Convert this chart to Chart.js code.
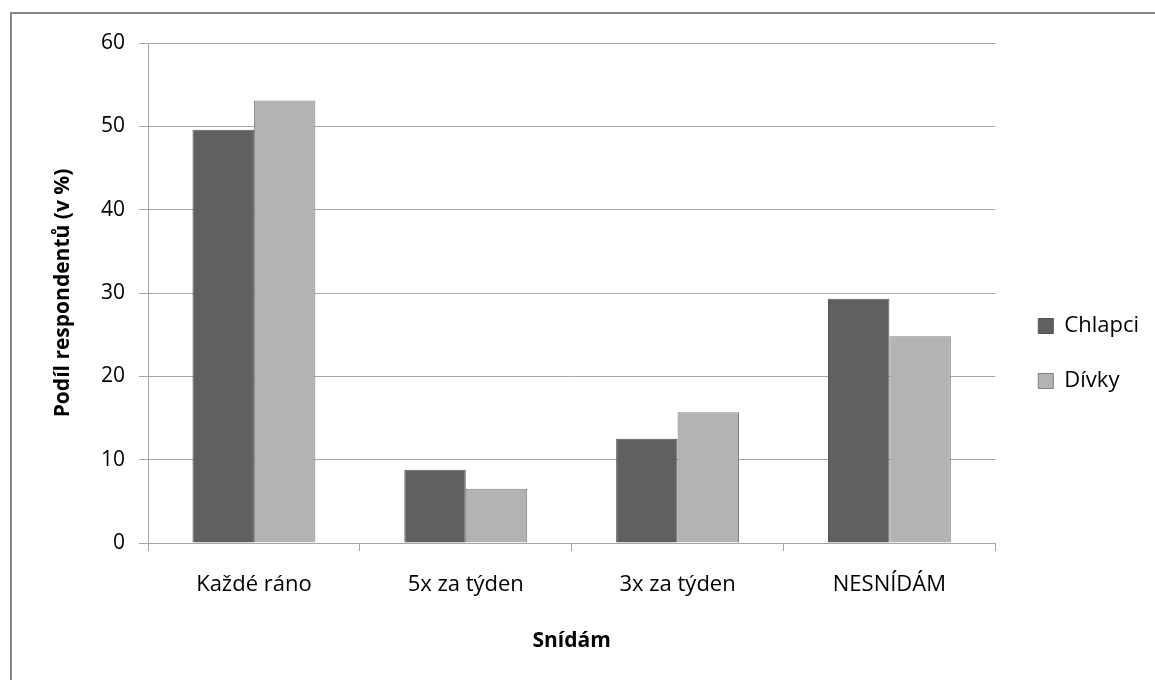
<!DOCTYPE html>
<html>
  <head>
    <script src="https://cdn.jsdelivr.net/npm/chart.js"></script>
    <style>
      body {
        margin: 0;
        padding: 0;
        overflow: hidden;
        background: #fff;
      }
      .frame {
        position: absolute;
        left: 10px;
        top: 12px;
        width: 2000px;
        height: 2000px;
        border-top: 2px solid #878787;
        border-left: 2px solid #878787;
      }
      .wrap {
        position: absolute;
        left: 0;
        top: 0;
        width: 1155px;
        height: 680px;
      }
    </style>
  </head>
  <body>
    <div class="frame"></div>
    <div class="wrap"><canvas id="breakfastChart"></canvas></div>
    <script>
      const categories = ["Každé ráno", "5x za týden", "3x za týden", "NESNÍDÁM"];
      const boys = [49.6, 8.8, 12.5, 29.3]; // Chlapci
      const girls = [53.1, 6.5, 15.7, 24.8]; // Dívky
      const yTicks = [0, 10, 20, 30, 40, 50, 60];

      const font = "'Open Sans', 'DejaVu Sans', sans-serif";
      const gridColor = "#a6a6a6";

      const chartData = {
        labels: categories,
        datasets: [
          {
            label: "Chlapci",
            data: boys,
            backgroundColor: "#606060",
            borderColor: "#555555",
            borderWidth: 1,
          },
          {
            label: "Dívky",
            data: girls,
            backgroundColor: "#b3b3b3",
            borderColor: "#7f7f7f",
            borderWidth: 1,
          },
        ],
      };

      const options = {
        responsive: false,
        animation: false,
        layout: {
          padding: { top: 43, left: 0, right: 6, bottom: 16 },
        },
        datasets: {
          bar: {
            categoryPercentage: 0.58,
            barPercentage: 1.0,
          },
        },
        plugins: {
          legend: {
            position: "right",
            labels: {
              boxWidth: 15,
              boxHeight: 15,
              padding: 33,
              color: "#000",
              font: { family: font, size: 22 },
            },
          },
          tooltip: { enabled: false },
        },
        scales: {
          x: {
            grid: {
              display: true,
              drawOnChartArea: false,
              drawTicks: true,
              tickLength: 8,
              color: gridColor,
            },
            border: { color: gridColor },
            ticks: {
              color: "#000",
              padding: 21,
              maxRotation: 0,
              font: { family: font, size: 22 },
            },
            title: {
              display: true,
              text: "Snídám",
              color: "#000",
              font: { family: font, size: 21, weight: "bold" },
              padding: { top: 0, bottom: 10 },
            },
            afterFit: (scale) => {
              scale.height = 121;
            },
          },
          y: {
            min: 0,
            max: 60,
            afterBuildTicks: (scale) => {
              scale.ticks = yTicks.map((v) => ({ value: v }));
            },
            grid: {
              color: gridColor,
              drawTicks: true,
              tickLength: 9,
            },
            border: { color: gridColor },
            ticks: {
              color: "#000",
              padding: 14,
              font: { family: font, size: 21 },
            },
            title: {
              display: true,
              text: "Podíl respondentů (v %)",
              color: "#000",
              font: { family: font, size: 21, weight: "bold" },
              padding: { top: 50, bottom: 0 },
            },
            afterFit: (scale) => {
              scale.width = 148;
            },
          },
          // empty spacer between plot area and legend
          spacer: {
            position: "right",
            display: true,
            grid: { display: false },
            border: { display: false },
            ticks: { display: false },
            afterFit: (scale) => {
              scale.width = 10;
            },
          },
        },
      };

      const canvas = document.getElementById("breakfastChart");
      canvas.width = 1155;
      canvas.height = 680;
      new Chart(canvas.getContext("2d"), {
        type: "bar",
        data: chartData,
        options: options,
      });
    </script>
  </body>
</html>
